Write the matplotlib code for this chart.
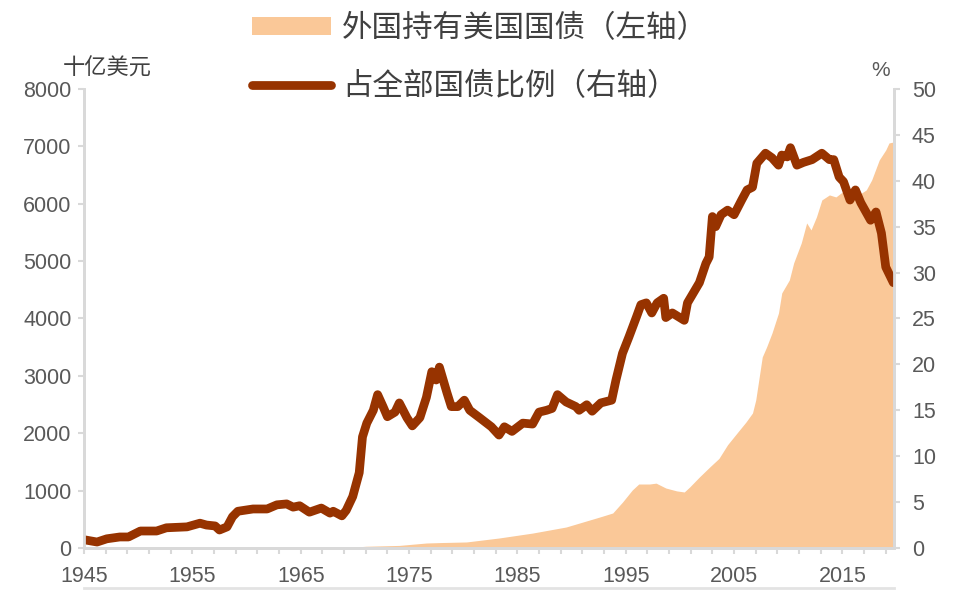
import numpy as np
import matplotlib
matplotlib.use("Agg")
import matplotlib.pyplot as plt
from matplotlib.patches import Patch
from matplotlib.lines import Line2D

plt.rcParams["font.family"] = ["Liberation Sans", "Noto Sans CJK SC", "DejaVu Sans"]

# 外国持有美国国债（十亿美元，左轴）
hold_year = [1945.0, 1955.0, 1965.0, 1970.0, 1971.0, 1974.1, 1976.6, 1978.0, 1980.3,
             1983.3, 1986.4, 1989.5, 1992.6, 1993.8, 1994.7, 1995.6, 1996.2, 1997.2,
             1997.8, 1998.7, 1999.7, 2000.4, 2000.9, 2001.8, 2002.8, 2003.6, 2004.4,
             2005.5, 2006.1, 2006.7, 2007.0, 2007.6, 2008.0, 2008.5, 2009.1, 2009.4,
             2010.1, 2010.5, 2011.2, 2011.7, 2012.1, 2012.6, 2013.1, 2013.8, 2014.4,
             2015.0, 2015.6, 2016.2, 2017.2, 2017.7, 2018.4, 2019.0, 2019.3, 2019.75]
hold_val = [2, 6, 12, 15, 30, 45, 87, 95, 105,
            174, 260, 366, 540, 610, 800, 1010, 1115, 1115,
            1130, 1045, 995, 976, 1063, 1238, 1420, 1560, 1800,
            2057, 2196, 2353, 2580, 3329, 3503, 3747, 4096, 4445,
            4671, 4968, 5316, 5665, 5543, 5769, 6066, 6153, 6118,
            6205, 6240, 6118, 6240, 6414, 6763, 6937, 7059, 7077]

# 占全部国债比例（%，右轴）
ratio_year = [1945.0, 1946.2, 1947.1, 1948.3, 1949.1, 1950.2, 1951.7, 1952.6, 1954.5,
              1955.7, 1956.3, 1957.1, 1957.5, 1958.2, 1958.7, 1959.2, 1960.6, 1961.9,
              1962.8, 1963.7, 1964.3, 1964.9, 1965.8, 1966.9, 1967.7, 1968.0, 1968.8,
              1969.2, 1969.8, 1970.4, 1970.7, 1971.1, 1971.7, 1972.1, 1972.6, 1973.0,
              1973.7, 1974.1, 1974.8, 1975.3, 1976.0, 1976.6, 1977.1, 1977.5, 1977.8,
              1978.5, 1978.9, 1979.5, 1980.1, 1980.6, 1981.5, 1982.6, 1983.3, 1983.8,
              1984.5, 1985.5, 1986.4, 1987.0, 1987.7, 1988.2, 1988.7, 1989.5, 1990.4,
              1990.7, 1991.4, 1991.9, 1992.7, 1993.7, 1994.1, 1994.7, 1995.3, 1996.0,
              1996.4, 1996.9, 1997.4, 1997.9, 1998.5, 1998.7, 1999.3, 2000.4, 2000.7,
              2001.8, 2002.4, 2002.7, 2003.0, 2003.3, 2003.8, 2004.4, 2005.0, 2005.7,
              2006.2, 2006.7, 2007.1, 2007.9, 2008.5, 2009.1, 2009.4, 2009.9, 2010.2,
              2010.8, 2011.4, 2012.2, 2013.1, 2013.8, 2014.2, 2014.7, 2015.1, 2015.7,
              2016.2, 2016.7, 2017.6, 2018.1, 2018.6, 2019.0, 2019.7]
ratio_val = [0.9, 0.65, 1.0, 1.2, 1.2, 1.85, 1.85, 2.2, 2.3,
             2.7, 2.5, 2.4, 1.96, 2.3, 3.4, 4.0, 4.25, 4.25,
             4.7, 4.8, 4.45, 4.6, 3.9, 4.35, 3.8, 4.0, 3.5,
             4.1, 5.6, 8.2, 12.1, 13.6, 15.0, 16.7, 15.4, 14.3,
             14.8, 15.8, 14.2, 13.3, 14.2, 16.4, 19.2, 18.3, 19.7,
             16.9, 15.4, 15.4, 16.1, 15.0, 14.2, 13.2, 12.3, 13.2,
             12.7, 13.6, 13.5, 14.8, 15.0, 15.2, 16.7, 15.9, 15.4,
             15.0, 15.6, 14.9, 15.8, 16.1, 18.3, 21.2, 23.0, 25.2,
             26.5, 26.7, 25.6, 26.7, 27.2, 25.1, 25.6, 24.8, 26.7,
             28.9, 31.0, 31.7, 36.1, 35.0, 36.3, 36.8, 36.3, 37.9,
             39.0, 39.3, 41.9, 43.0, 42.5, 41.7, 42.8, 42.6, 43.6,
             41.7, 42.0, 42.3, 43.0, 42.3, 42.3, 40.4, 39.9, 37.9,
             39.0, 37.6, 35.7, 36.6, 34.3, 30.6, 28.9]

x_ticks = [1945, 1955, 1965, 1975, 1985, 1995, 2005, 2015]

fill_color = "#FAC898"
line_color = "#973300"
axis_gray = "#D9D9D9"
text_gray = "#595959"
cjk = ["Noto Sans CJK SC", "DejaVu Sans"]

fig = plt.figure(figsize=(9.55, 6.08), dpi=100)
ax = fig.add_axes([0.088, 0.0987, 0.848, 0.755])
ax2 = ax.twinx()

ax.fill_between(hold_year, hold_val, 0, color=fill_color, linewidth=0)
ax2.plot(ratio_year, ratio_val, color=line_color, linewidth=6.3,
         solid_joinstyle="round", solid_capstyle="round")

ax.set_xlim(1945, 2019.75)
ax.set_ylim(0, 8000)
ax2.set_ylim(0, 50)
ax.set_xticks(x_ticks)
ax.set_xticks(np.arange(1945, 2020, 2), minor=True)
ax.set_yticks(np.arange(0, 8001, 1000))
ax2.set_yticks(np.arange(0, 51, 5))

for a in (ax, ax2):
    a.spines["top"].set_visible(False)
    for s in ("left", "right", "bottom"):
        a.spines[s].set_color(axis_gray)
        a.spines[s].set_linewidth(2)

ax.tick_params(axis="x", which="both", direction="out", length=4, width=1.5,
               color=axis_gray, labelsize=15.5, labelcolor=text_gray, pad=9)
ax.tick_params(axis="y", direction="out", length=4, width=1.5,
               color=axis_gray, labelsize=15.5, labelcolor=text_gray, pad=5)
ax2.tick_params(axis="y", direction="out", length=4, width=1.5,
                color=axis_gray, labelsize=15.5, labelcolor=text_gray, pad=9)

# 单位
fig.text(63 / 955, 1 - 68 / 608, "十亿美元", fontsize=16, color="#404040",
         family=cjk, va="center", ha="left")
fig.text(881 / 955, 1 - 70 / 608, "%", fontsize=15, color=text_gray,
         va="center", ha="center")

# 图例
handles = [Patch(facecolor=fill_color, edgecolor="none"),
           Line2D([0], [0], color=line_color, linewidth=6.3, solid_capstyle="round")]
labels = ["外国持有美国国债（左轴）", "占全部国债比例（右轴）"]
leg = fig.legend(handles, labels, loc="upper left",
                 bbox_to_anchor=(252 / 955, 1 - 13 / 608), frameon=False,
                 handlelength=2.6, handleheight=0.55,
                 handletextpad=0.35, labelspacing=0.9, borderpad=0, borderaxespad=0,
                 prop={"family": cjk, "size": 22})
for t in leg.get_texts():
    t.set_color("#404040")

# 底部浅灰线
fig.add_artist(Line2D([84 / 955, 894 / 955], [1 - 588 / 608, 1 - 588 / 608],
                      color="#E3E3E3", linewidth=2, transform=fig.transFigure))

fig.savefig("out.png", dpi=100)
plt.close(fig)
